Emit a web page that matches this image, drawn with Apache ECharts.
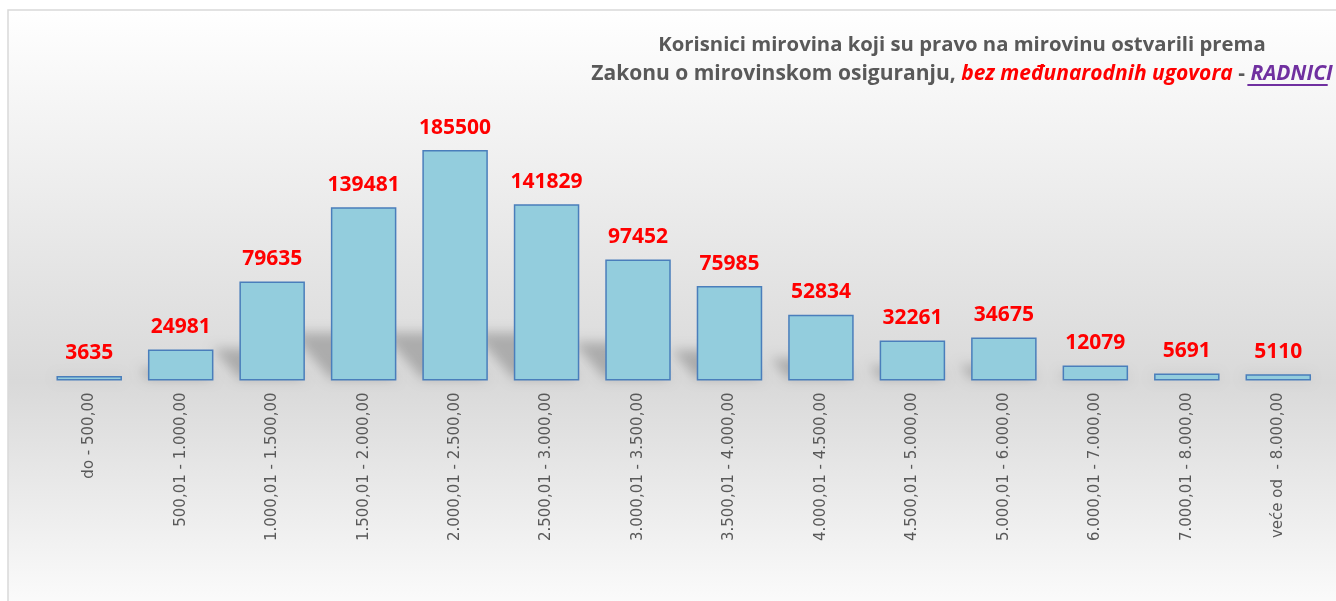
<!DOCTYPE html>
<html>
<head>
<meta charset="utf-8">
<script src="https://cdn.jsdelivr.net/npm/echarts@6/dist/echarts.min.js"></script>
<style>
  html, body { margin: 0; padding: 0; background: #ffffff; overflow: hidden; }
  #chart { width: 1336px; height: 601px; }
</style>
</head>
<body>
<div id="chart"></div>
<script>
// Pension amount brackets (EUR) and number of pension recipients in each
const categories = [
  'do - 500,00', '500,01 - 1.000,00', '1.000,01 - 1.500,00', '1.500,01 - 2.000,00',
  '2.000,01 - 2.500,00', '2.500,01 - 3.000,00', '3.000,01 - 3.500,00', '3.500,01 - 4.000,00',
  '4.000,01 - 4.500,00', '4.500,01 - 5.000,00', '5.000,01 - 6.000,00', '6.000,01 - 7.000,00',
  '7.000,01 - 8.000,00', 'veće od  - 8.000,00'
];
const recipients = [3635, 24981, 79635, 139481, 185500, 141829, 97452, 75985, 52834, 32261, 34675, 12079, 5691, 5110];

const titleLine1 = 'Korisnici mirovina koji su pravo na mirovinu ostvarili prema';
const titleLine2Parts = ['Zakonu o mirovinskom osiguranju, ', 'bez međunarodnih ugovora', ' - ', 'RADNICI'];

const FONT = '"Open Sans", "DejaVu Sans", sans-serif';
const AXIS_FONT = '"DejaVu Sans", sans-serif';
const TITLE_SIZE = 20.3;
const TITLE2_SIZE = 21;
const TITLE_CX = 957;

// measure the second title line so the underline sits under the last word
const ctx = document.createElement('canvas').getContext('2d');
function w(text, style) {
  ctx.font = style + ' ' + TITLE2_SIZE + 'px "Open Sans"';
  return ctx.measureText(text).width;
}
const segW = [
  w(titleLine2Parts[0], 'bold'),
  w(titleLine2Parts[1], 'italic bold'),
  w(titleLine2Parts[2], 'bold'),
  w(titleLine2Parts[3], 'italic bold')
];
const line2W = segW.reduce((a, b) => a + b, 0);
const underlineX0 = TITLE_CX - line2W / 2 + segW[0] + segW[1] + segW[2];
const underlineX1 = underlineX0 + segW[3];

const chart = echarts.init(document.getElementById('chart'), null, { renderer: 'canvas' });

// soft perspective shadow cast behind each bar toward the upper left
function renderShadow(params, api) {
  const idx = api.value(0);
  const val = api.value(1);
  const base = api.coord([idx, 0]);
  const top = api.coord([idx, val]);
  const bw = api.size([1, 0])[0] * 0.716;
  const h = Math.min((base[1] - top[1]) * 0.3, 46);
  const dx = h * 0.9;
  const x0 = base[0] - bw / 2, x1 = base[0] + bw / 2, y = base[1] - 2;
  const OFF = 3000;
  return {
    type: 'polygon',
    shape: { points: [[x0 - OFF, y], [x1 - OFF, y], [x1 - dx - OFF, y - h], [x0 - dx - OFF, y - h]] },
    style: {
      fill: 'rgba(0,0,0,1)',
      shadowColor: 'rgba(0,0,0,0.22)',
      shadowBlur: 12,
      shadowOffsetX: OFF,
      shadowOffsetY: 0
    },
    silent: true
  };
}

const titleRich = {
  g: { fontFamily: FONT, fontSize: TITLE_SIZE, fontWeight: 'bold', color: '#595959', lineHeight: 29 },
  g2: { fontFamily: FONT, fontSize: TITLE2_SIZE, fontWeight: 'bold', color: '#595959', lineHeight: 29 },
  r: { fontFamily: FONT, fontSize: TITLE2_SIZE, fontWeight: 'bold', fontStyle: 'italic', color: '#ff0000', lineHeight: 29 },
  p: { fontFamily: FONT, fontSize: TITLE2_SIZE, fontWeight: 'bold', fontStyle: 'italic', color: '#7030a0', lineHeight: 29 }
};

const option = {
  animation: false,
  graphic: [
    {
      type: 'rect',
      z: -10,
      silent: true,
      shape: { x: 8, y: 10, width: 1400, height: 620 },
      style: {
        fill: new echarts.graphic.LinearGradient(0, 0, 0, 1, [
          { offset: 0, color: '#ffffff' },
          { offset: 0.6, color: '#d9d9d9' },
          { offset: 1, color: '#ffffff' }
        ]),
        stroke: '#d9d9d9',
        lineWidth: 1.5
      }
    },
    {
      type: 'line',
      z: 10,
      silent: true,
      shape: { x1: underlineX0 + 2, y1: 85, x2: underlineX1, y2: 85 },
      style: { stroke: '#7030a0', lineWidth: 1.8 }
    }
  ],
  title: {
    left: TITLE_CX,
    top: 26,
    textAlign: 'center',
    text: '{g|' + titleLine1 + '}\n{g2|' + titleLine2Parts[0] + '}{r|' + titleLine2Parts[1] + '}{g2|' + titleLine2Parts[2] + '}{p|' + titleLine2Parts[3] + '}',
    textStyle: { rich: titleRich }
  },
  grid: { left: 43.5, right: 12, top: 132, bottom: 220.5 },
  xAxis: {
    type: 'category',
    data: categories,
    axisLine: { show: false },
    axisTick: { show: false },
    axisLabel: {
      rotate: 90,
      interval: 0,
      margin: 12,
      color: '#595959',
      fontFamily: AXIS_FONT,
      fontSize: 15
    }
  },
  yAxis: {
    type: 'value',
    min: 0,
    max: 200000,
    show: false,
    splitLine: { show: false }
  },
  series: [
    {
      type: 'custom',
      z: 1,
      renderItem: renderShadow,
      data: recipients.map((v, i) => [i, v]),
      encode: { x: 0, y: 1 },
      clip: false
    },
    {
      type: 'bar',
      z: 3,
      data: recipients,
      barWidth: '71.6%',
      itemStyle: {
        color: '#93cddd',
        borderColor: '#4a7ebb',
        borderWidth: 1.5
      },
      label: {
        show: true,
        position: 'top',
        distance: 12,
        color: '#ff0000',
        fontFamily: FONT,
        fontWeight: 'bold',
        fontSize: 21
      }
    }
  ]
};

chart.setOption(option);
</script>
</body>
</html>
